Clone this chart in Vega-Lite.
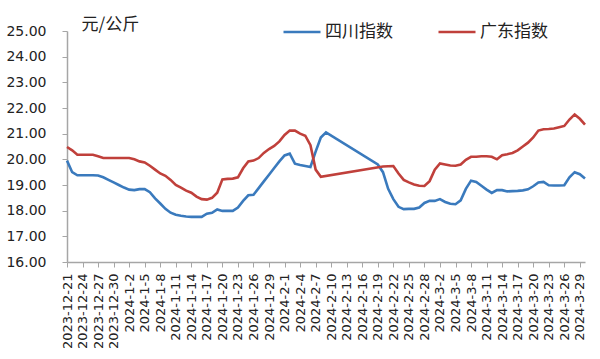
{
  "$schema": "https://vega.github.io/schema/vega-lite/v6.json",
  "width": 518,
  "height": 231,
  "autosize": "none",
  "padding": {"left": 67, "top": 31, "right": 15, "bottom": 97},
  "background": "white",
  "config": {"view": {"stroke": null}},
  "data": {"values": [
    {"date": "2023-12-21", "四川指数": 19.95, "广东指数": 20.48},
    {"date": "2023-12-22", "四川指数": 19.5, "广东指数": 20.35},
    {"date": "2023-12-23", "四川指数": 19.38, "广东指数": 20.18},
    {"date": "2023-12-24", "四川指数": 19.38, "广东指数": 20.18},
    {"date": "2023-12-25", "四川指数": 19.38, "广东指数": 20.18},
    {"date": "2023-12-26", "四川指数": 19.38, "广东指数": 20.18},
    {"date": "2023-12-27", "四川指数": 19.37, "广东指数": 20.12},
    {"date": "2023-12-28", "四川指数": 19.3, "广东指数": 20.05},
    {"date": "2023-12-29", "四川指数": 19.2, "广东指数": 20.05},
    {"date": "2023-12-30", "四川指数": 19.1, "广东指数": 20.05},
    {"date": "2023-12-31", "四川指数": 19.0, "广东指数": 20.05},
    {"date": "2024-01-01", "四川指数": 18.9, "广东指数": 20.05},
    {"date": "2024-01-02", "四川指数": 18.82, "广东指数": 20.05},
    {"date": "2024-01-03", "四川指数": 18.8, "广东指数": 20.0},
    {"date": "2024-01-04", "四川指数": 18.84, "广东指数": 19.92},
    {"date": "2024-01-05", "四川指数": 18.84, "广东指数": 19.88},
    {"date": "2024-01-06", "四川指数": 18.72, "广东指数": 19.75},
    {"date": "2024-01-07", "四川指数": 18.48, "广东指数": 19.6},
    {"date": "2024-01-08", "四川指数": 18.28, "广东指数": 19.45},
    {"date": "2024-01-09", "四川指数": 18.07, "广东指数": 19.36},
    {"date": "2024-01-10", "四川指数": 17.92, "广东指数": 19.2},
    {"date": "2024-01-11", "四川指数": 17.84, "广东指数": 19.0},
    {"date": "2024-01-12", "四川指数": 17.8, "广东指数": 18.9},
    {"date": "2024-01-13", "四川指数": 17.77, "广东指数": 18.78},
    {"date": "2024-01-14", "四川指数": 17.76, "广东指数": 18.7},
    {"date": "2024-01-15", "四川指数": 17.76, "广东指数": 18.55},
    {"date": "2024-01-16", "四川指数": 17.76, "广东指数": 18.45},
    {"date": "2024-01-17", "四川指数": 17.88, "广东指数": 18.43},
    {"date": "2024-01-18", "四川指数": 17.92, "广东指数": 18.5},
    {"date": "2024-01-19", "四川指数": 18.05, "广东指数": 18.7},
    {"date": "2024-01-20", "四川指数": 17.99, "广东指数": 19.22},
    {"date": "2024-01-21", "四川指数": 17.99, "广东指数": 19.24},
    {"date": "2024-01-22", "四川指数": 17.99, "广东指数": 19.25},
    {"date": "2024-01-23", "四川指数": 18.12, "广东指数": 19.3},
    {"date": "2024-01-24", "四川指数": 18.38, "广东指数": 19.65},
    {"date": "2024-01-25", "四川指数": 18.6, "广东指数": 19.92},
    {"date": "2024-01-26", "四川指数": 18.62, "广东指数": 19.95},
    {"date": "2024-01-27", "四川指数": 18.88, "广东指数": 20.05},
    {"date": "2024-01-28", "四川指数": 19.14, "广东指数": 20.25},
    {"date": "2024-01-29", "四川指数": 19.4, "广东指数": 20.4},
    {"date": "2024-01-30", "四川指数": 19.66, "广东指数": 20.52},
    {"date": "2024-01-31", "四川指数": 19.92, "广东指数": 20.7},
    {"date": "2024-02-01", "四川指数": 20.15, "广东指数": 20.95},
    {"date": "2024-02-02", "四川指数": 20.22, "广东指数": 21.12},
    {"date": "2024-02-03", "四川指数": 19.83, "广东指数": 21.12},
    {"date": "2024-02-04", "四川指数": 19.78, "广东指数": 21.0},
    {"date": "2024-02-05", "四川指数": 19.74, "广东指数": 20.92},
    {"date": "2024-02-06", "四川指数": 19.7, "广东指数": 20.55},
    {"date": "2024-02-07", "四川指数": 20.3, "广东指数": 19.6},
    {"date": "2024-02-08", "四川指数": 20.85, "广东指数": 19.32},
    {"date": "2024-02-09", "四川指数": 21.05},
    {"date": "2024-02-19", "四川指数": 19.8},
    {"date": "2024-02-20", "四川指数": 19.5, "广东指数": 19.72},
    {"date": "2024-02-21", "四川指数": 18.85, "广东指数": 19.73},
    {"date": "2024-02-22", "四川指数": 18.45, "广东指数": 19.74},
    {"date": "2024-02-23", "四川指数": 18.15, "广东指数": 19.45},
    {"date": "2024-02-24", "四川指数": 18.06, "广东指数": 19.2},
    {"date": "2024-02-25", "四川指数": 18.07, "广东指数": 19.1},
    {"date": "2024-02-26", "四川指数": 18.07, "广东指数": 19.02},
    {"date": "2024-02-27", "四川指数": 18.12, "广东指数": 18.97},
    {"date": "2024-02-28", "四川指数": 18.3, "广东指数": 18.96},
    {"date": "2024-02-29", "四川指数": 18.38, "广东指数": 19.15},
    {"date": "2024-03-01", "四川指数": 18.38, "广东指数": 19.6},
    {"date": "2024-03-02", "四川指数": 18.45, "广东指数": 19.84},
    {"date": "2024-03-03", "四川指数": 18.34, "广东指数": 19.8},
    {"date": "2024-03-04", "四川指数": 18.27, "广东指数": 19.76},
    {"date": "2024-03-05", "四川指数": 18.25, "广东指数": 19.75},
    {"date": "2024-03-06", "四川指数": 18.4, "广东指数": 19.8},
    {"date": "2024-03-07", "四川指数": 18.85, "广东指数": 19.98},
    {"date": "2024-03-08", "四川指数": 19.17, "广东指数": 20.1},
    {"date": "2024-03-09", "四川指数": 19.12, "广东指数": 20.1},
    {"date": "2024-03-10", "四川指数": 18.97, "广东指数": 20.12},
    {"date": "2024-03-11", "四川指数": 18.82, "广东指数": 20.12},
    {"date": "2024-03-12", "四川指数": 18.69, "广东指数": 20.1},
    {"date": "2024-03-13", "四川指数": 18.8, "广东指数": 20.0},
    {"date": "2024-03-14", "四川指数": 18.8, "广东指数": 20.16},
    {"date": "2024-03-15", "四川指数": 18.75, "广东指数": 20.2},
    {"date": "2024-03-16", "四川指数": 18.76, "广东指数": 20.25},
    {"date": "2024-03-17", "四川指数": 18.77, "广东指数": 20.35},
    {"date": "2024-03-18", "四川指数": 18.79, "广东指数": 20.5},
    {"date": "2024-03-19", "四川指数": 18.83, "广东指数": 20.65},
    {"date": "2024-03-20", "四川指数": 18.95, "广东指数": 20.85},
    {"date": "2024-03-21", "四川指数": 19.1, "广东指数": 21.12},
    {"date": "2024-03-22", "四川指数": 19.12, "广东指数": 21.17},
    {"date": "2024-03-23", "四川指数": 18.99, "广东指数": 21.18},
    {"date": "2024-03-24", "四川指数": 18.98, "广东指数": 21.2},
    {"date": "2024-03-25", "四川指数": 18.98, "广东指数": 21.25},
    {"date": "2024-03-26", "四川指数": 18.99, "广东指数": 21.3},
    {"date": "2024-03-27", "四川指数": 19.3, "广东指数": 21.55},
    {"date": "2024-03-28", "四川指数": 19.5, "广东指数": 21.75},
    {"date": "2024-03-29", "四川指数": 19.42, "广东指数": 21.58},
    {"date": "2024-03-30", "四川指数": 19.25, "广东指数": 21.35}
  ]},
  "transform": [
    {"fold": ["四川指数", "广东指数"], "as": ["series", "value"]},
    {"filter": "isValid(datum.value)"}
  ],
  "mark": {"type": "line", "strokeWidth": 2.6, "interpolate": "linear"},
  "encoding": {
    "x": {
      "field": "date",
      "type": "temporal",
      "scale": {
        "type": "utc",
        "domain": [
          {"year": 2023, "month": 12, "date": 21, "utc": true},
          {"year": 2024, "month": 3, "date": 30, "utc": true}
        ]
      },
      "axis": {
        "title": null,
        "format": "%Y-%-m-%-d",
        "values": [
          {"year": 2023, "month": 12, "date": 21, "utc": true},
          {"year": 2023, "month": 12, "date": 24, "utc": true},
          {"year": 2023, "month": 12, "date": 27, "utc": true},
          {"year": 2023, "month": 12, "date": 30, "utc": true},
          {"year": 2024, "month": 1, "date": 2, "utc": true},
          {"year": 2024, "month": 1, "date": 5, "utc": true},
          {"year": 2024, "month": 1, "date": 8, "utc": true},
          {"year": 2024, "month": 1, "date": 11, "utc": true},
          {"year": 2024, "month": 1, "date": 14, "utc": true},
          {"year": 2024, "month": 1, "date": 17, "utc": true},
          {"year": 2024, "month": 1, "date": 20, "utc": true},
          {"year": 2024, "month": 1, "date": 23, "utc": true},
          {"year": 2024, "month": 1, "date": 26, "utc": true},
          {"year": 2024, "month": 1, "date": 29, "utc": true},
          {"year": 2024, "month": 2, "date": 1, "utc": true},
          {"year": 2024, "month": 2, "date": 4, "utc": true},
          {"year": 2024, "month": 2, "date": 7, "utc": true},
          {"year": 2024, "month": 2, "date": 10, "utc": true},
          {"year": 2024, "month": 2, "date": 13, "utc": true},
          {"year": 2024, "month": 2, "date": 16, "utc": true},
          {"year": 2024, "month": 2, "date": 19, "utc": true},
          {"year": 2024, "month": 2, "date": 22, "utc": true},
          {"year": 2024, "month": 2, "date": 25, "utc": true},
          {"year": 2024, "month": 2, "date": 28, "utc": true},
          {"year": 2024, "month": 3, "date": 2, "utc": true},
          {"year": 2024, "month": 3, "date": 5, "utc": true},
          {"year": 2024, "month": 3, "date": 8, "utc": true},
          {"year": 2024, "month": 3, "date": 11, "utc": true},
          {"year": 2024, "month": 3, "date": 14, "utc": true},
          {"year": 2024, "month": 3, "date": 17, "utc": true},
          {"year": 2024, "month": 3, "date": 20, "utc": true},
          {"year": 2024, "month": 3, "date": 23, "utc": true},
          {"year": 2024, "month": 3, "date": 26, "utc": true},
          {"year": 2024, "month": 3, "date": 29, "utc": true}
        ],
        "labelAngle": -90,
        "labelAlign": "right",
        "labelBaseline": "middle",
        "labelFont": "DejaVu Sans",
        "labelFontSize": 13,
        "labelColor": "#222222",
        "labelPadding": 6,
        "labelOverlap": false,
        "labelFlush": false,
        "labelBound": false,
        "grid": false,
        "domainColor": "#a6a6a6",
        "domainWidth": 1.5,
        "tickColor": "#a6a6a6",
        "tickSize": 5,
        "tickWidth": 1
      }
    },
    "y": {
      "field": "value",
      "type": "quantitative",
      "scale": {"domain": [16, 25], "nice": false, "zero": false},
      "axis": {
        "title": "元/公斤",
        "titleAngle": 0,
        "titleAlign": "left",
        "titleBaseline": "middle",
        "titleX": 14,
        "titleY": -7,
        "titleFont": "Noto Sans CJK SC",
        "titleFontSize": 17,
        "titleFontWeight": "normal",
        "titleColor": "#222222",
        "values": [16, 17, 18, 19, 20, 21, 22, 23, 24, 25],
        "format": ".2f",
        "labelFont": "DejaVu Sans",
        "labelFontSize": 14,
        "labelColor": "#222222",
        "labelPadding": 16,
        "labelFlush": false,
        "grid": false,
        "domainColor": "#a6a6a6",
        "domainWidth": 1.5,
        "tickColor": "#a6a6a6",
        "tickSize": 5
      }
    },
    "color": {
      "field": "series",
      "type": "nominal",
      "scale": {"domain": ["四川指数", "广东指数"], "range": ["#3a7abd", "#c0403b"]},
      "legend": {
        "title": null,
        "orient": "none",
        "direction": "horizontal",
        "legendX": 215,
        "legendY": -19,
        "symbolType": "stroke",
        "symbolSize": 1369,
        "symbolStrokeWidth": 2.6,
        "labelFont": "Noto Sans CJK SC",
        "labelFontSize": 17,
        "labelColor": "#222222",
        "labelOffset": 3,
        "columnPadding": 40
      }
    }
  }
}
